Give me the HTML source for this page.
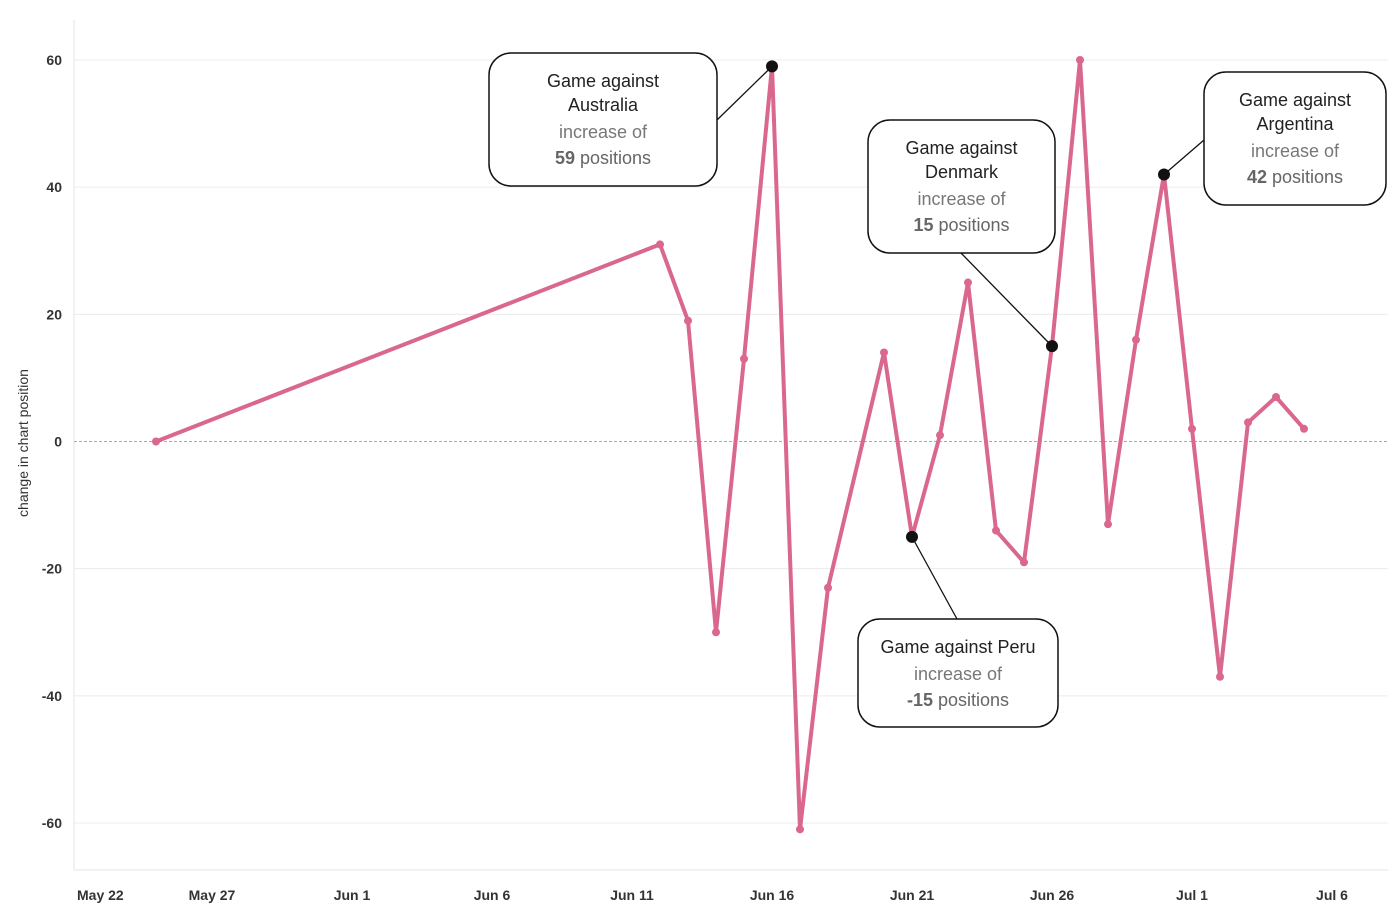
<!DOCTYPE html>
<html><head><meta charset="utf-8"><style>
body{margin:0;background:#fff;font-family:"Liberation Sans",sans-serif}
svg text{font-family:"Liberation Sans",sans-serif}
</style></head><body>
<svg id="c" width="1400" height="916"></svg>
<script>
const days=[3,21,22,23,24,25,26,27,29,30,31,32,33,34,35,36,37,38,39,40,41,42,43,44];
const values=[0,31,19,-30,13,59,-61,-23,14,-15,1,25,-14,-19,15,60,-13,16,42,2,-37,3,7,2];
const yTicks=[60,40,20,0,-20,-40,-60];
const xTickDays=[0,5,10,15,20,25,30,35,40,45];
const xTickLabels=["May 22","May 27","Jun 1","Jun 6","Jun 11","Jun 16","Jun 21","Jun 26","Jul 1","Jul 6"];
const highlights=[
 {i:5,lines:["Game against","Australia"],val:"59",box:[489,53,228,133],anchor:[717,120]},
 {i:14,lines:["Game against","Denmark"],val:"15",box:[868,120,187,133],anchor:[961,253]},
 {i:18,lines:["Game against","Argentina"],val:"42",box:[1204,72,182,133],anchor:[1204,140]},
 {i:9,lines:["Game against Peru"],val:"-15",box:[858,619,200,108],anchor:[957,619]}
];
const NS="http://www.w3.org/2000/svg";
const svg=document.getElementById('c');
const X=d=>72+d*28;
const Y=v=>441.5-v*(763/120);
function el(t,a,p){const e=document.createElementNS(NS,t);for(const k in a)e.setAttribute(k,a[k]);(p||svg).appendChild(e);return e;}
const gg=el('g',{});

el('line',{x1:74,x2:74,y1:20,y2:870,stroke:'#e6e6e6'},gg);
el('line',{x1:74,x2:1388,y1:870,y2:870,stroke:'#e6e6e6'},gg);
yTicks.forEach(t=>{
 if(t!==0)el('line',{x1:74,x2:1388,y1:Y(t),y2:Y(t),stroke:'#ececec'},gg);
 const tx=el('text',{x:62,y:Y(t)+5,'text-anchor':'end','font-size':14,'font-weight':'bold',fill:'#333'});
 tx.textContent=t;
 
});
const zl=el('line',{x1:74,x2:1388,y1:Y(0),y2:Y(0),stroke:'#e58ca6','stroke-dasharray':'3,2'});

xTickDays.forEach((d,k)=>{
 let x=X(d);const tx=el('text',{x:k===0?77:x,y:900,'text-anchor':k===0?'start':'middle','font-size':14,'font-weight':'bold',fill:'#333'});
 tx.textContent=xTickLabels[k];
 
});
const yt=el('text',{x:0,y:0,transform:'translate(28,443) rotate(-90)','text-anchor':'middle','font-size':14,fill:'#333'});
yt.textContent='change in chart position';

const pl=el('polyline',{points:days.map((d,i)=>X(d)+','+Y(values[i])).join(' '),fill:'none',stroke:'#d9678f','stroke-width':4,'stroke-linejoin':'round'});

days.forEach((d,i)=>{
 const c=el('circle',{cx:X(d),cy:Y(values[i]),r:4,fill:'#d9678f'});
 
});
highlights.forEach(h=>{
 const px=X(days[h.i]),py=Y(values[h.i]);
 const g=el('g',{});
 
 el('line',{x1:px,y1:py,x2:h.anchor[0],y2:h.anchor[1],stroke:'#111','stroke-width':1.3},g);
 el('circle',{cx:px,cy:py,r:6,fill:'#111'},g);
 const [bx,by,bw,bh]=h.box;
 el('rect',{x:bx,y:by,width:bw,height:bh,rx:22,fill:'#fff',stroke:'#111','stroke-width':1.5},g);
 const cx=bx+bw/2;let yy=by+34;
 h.lines.forEach(l=>{const t=el('text',{x:cx,y:yy,'text-anchor':'middle','font-size':18,fill:'#222'},g);t.textContent=l;yy+=24;});
 const t1=el('text',{x:cx,y:yy+3,'text-anchor':'middle','font-size':18,fill:'#777'},g);t1.textContent='increase of';
 const t2=el('text',{x:cx,y:yy+29,'text-anchor':'middle','font-size':18,fill:'#666'},g);
 const ts=el('tspan',{'font-weight':'bold'},t2);ts.textContent=h.val;
 const ts2=el('tspan',{},t2);ts2.textContent=' positions';
});
</script>
</body></html>
